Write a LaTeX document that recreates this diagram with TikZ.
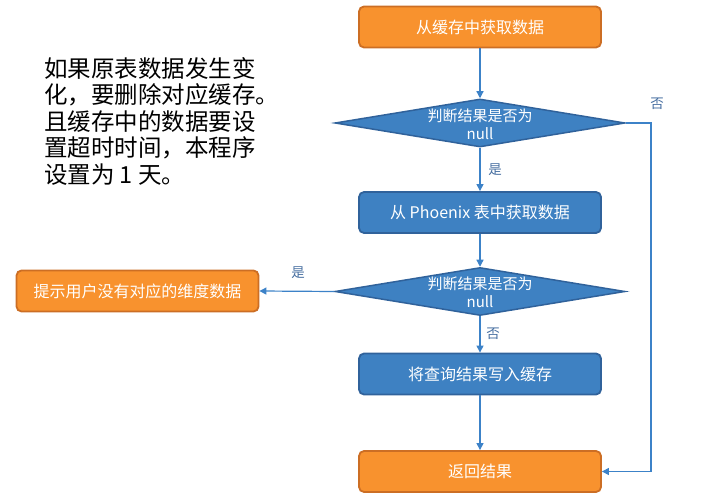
\documentclass[tikz,border=0pt]{standalone}
\usepackage{fontspec}
\setmainfont{Noto Sans CJK SC}
\usetikzlibrary{shapes.geometric,arrows.meta}
\definecolor{orfill}{RGB}{248,146,46}
\definecolor{ordraw}{RGB}{204,110,36}
\definecolor{blfill}{RGB}{62,129,194}
\definecolor{bldraw}{RGB}{48,98,155}
\definecolor{arr}{RGB}{60,130,200}
\definecolor{lbl}{RGB}{70,110,160}
\tikzset{
  obox/.style={draw=ordraw, fill=orfill, line width=1.8pt, rounded corners=5pt, minimum width=242pt, minimum height=41pt, text=white, font=\fontsize{16}{19}\selectfont, inner sep=0pt},
  bbox/.style={draw=bldraw, fill=blfill, line width=1.8pt, rounded corners=5pt, minimum width=242pt, minimum height=41pt, text=white, font=\fontsize{16}{19}\selectfont, inner sep=0pt},
  dia/.style={draw=bldraw, fill=blfill, line width=1.5pt, diamond, minimum width=290pt, minimum height=48pt, inner sep=0pt, shape aspect=6},
  diatext/.style={text=white, align=center, font=\fontsize{15}{18}\selectfont, inner sep=0pt},
  conn/.style={draw=arr, line width=1.2pt, -{Triangle[length=7pt,width=7pt]}},
  lab/.style={text=lbl, font=\fontsize{13.5}{15}\selectfont, inner sep=0pt}
}
\begin{document}
\begin{tikzpicture}[x=1pt,y=-1pt]
\useasboundingbox (0,0) rectangle (712,502);
\node[obox] (b1) at (480,27) {从缓存中获取数据};
\node[dia] (d1) at (480,123) {};
\node[diatext] (t1) at (480,124) {判断结果是否为\\null};
\node[bbox] (b2) at (480,212.5) {从 Phoenix 表中获取数据};
\node[dia] (d2) at (480,291.5) {};
\node[diatext] (t2) at (480,292) {判断结果是否为\\null};
\node[bbox] (b3) at (480,374) {将查询结果写入缓存};
\node[obox] (b4) at (480,471.5) {返回结果};
\node[obox] (bl) at (137.5,291) {提示用户没有对应的维度数据};
\coordinate (c1) at (651,123);
\coordinate (c2) at (651,471.5);
\draw[conn] (b1.south) -- (d1.north);
\draw[conn] (d1.south) -- (b2.north);
\draw[conn] (b2.south) -- (d2.north);
\draw[conn] (d2.south) -- (b3.north);
\draw[conn] (b3.south) -- (b4.north);
\draw[conn] (d2.west) -- (bl.east);
\draw[conn] (d1.east) -- (c1) -- (c2) -- (b4.east);
\node[lab] (l1) at (657,104) {否};
\node[lab] (l2) at (495,170) {是};
\node[lab] (l3) at (298,273) {是};
\node[lab] (l4) at (493,334) {否};
\node[anchor=north west, align=left, inner sep=0pt, font=\fontsize{23.5}{26.5}\selectfont] (note) at (44,57) {如果原表数据发生变\\化，要删除对应缓存。\\且缓存中的数据要设\\置超时时间，本程序\\设置为 1 天。};
\end{tikzpicture}
\end{document}
